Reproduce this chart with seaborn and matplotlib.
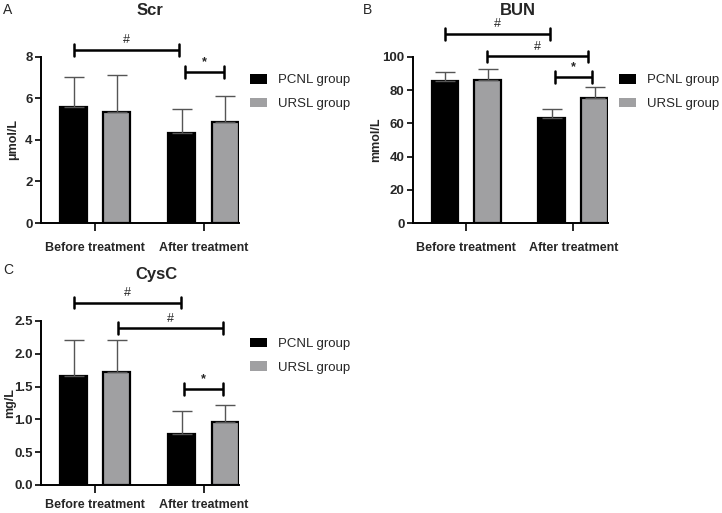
import numpy as np
import pandas as pd
import matplotlib
matplotlib.use("Agg")
import matplotlib.pyplot as plt
from matplotlib.patches import Patch
import seaborn as sns

sns.set_theme(style="white")
plt.rcParams["font.family"] = ["Liberation Sans", "DejaVu Sans"]

# ---- data ----
times = ["Before treatment", "After treatment"]
groups = ["PCNL group", "URSL group"]

scr_pcnl = [5.59, 4.35]
scr_pcnl_sd = [1.45, 1.16]
scr_ursl = [5.35, 4.87]
scr_ursl_sd = [1.77, 1.23]

bun_pcnl = [85.3, 63.5]
bun_pcnl_sd = [5.9, 5.2]
bun_ursl = [86.3, 75.3]
bun_ursl_sd = [6.6, 6.8]

cys_pcnl = [1.665, 0.78]
cys_pcnl_sd = [0.55, 0.355]
cys_ursl = [1.715, 0.955]
cys_ursl_sd = [0.495, 0.26]

# significance brackets: (x start, x end, y, label)
scr_brackets = [(-0.2, 0.77, 8.35, "#"), (0.83, 1.19, 7.28, "*")]
bun_brackets = [(-0.2, 0.78, 113.9, "#"), (0.19, 1.14, 100.4, "#"), (0.83, 1.18, 88.0, "*")]
cys_brackets = [(-0.2, 0.79, 2.78, "#"), (0.21, 1.18, 2.39, "#"), (0.82, 1.18, 1.465, "*")]

colors = {"PCNL group": "#000000", "URSL group": "#a0a0a2"}


def make_frame(pcnl, pcnl_sd, ursl, ursl_sd):
    rows = []
    for i, t in enumerate(times):
        rows.append({"time": t, "group": groups[0], "value": pcnl[i], "sd": pcnl_sd[i]})
        rows.append({"time": t, "group": groups[1], "value": ursl[i], "sd": ursl_sd[i]})
    return pd.DataFrame(rows)


def draw_panel(fig, rect, df, title, ylabel, ymax, yticks, ytick_labels, brackets, letter,
               letter_xy, title_x, ylabel_x, xpad=7.5):
    ax = fig.add_axes(rect)
    sns.barplot(data=df, x="time", y="value", hue="group", order=times, hue_order=groups,
                palette=colors, width=0.8, gap=0.375, errorbar=None,
                edgecolor="black", linewidth=1.6, ax=ax, legend=False)
    # upward-only error bars
    offsets = {"PCNL group": -0.2, "URSL group": 0.2}
    for _, r in df.iterrows():
        x = times.index(r["time"]) + offsets[r["group"]]
        ax.errorbar(x, r["value"], yerr=[[0], [r["sd"]]], fmt="none", ecolor="#555555",
                    elinewidth=1.0, capsize=7.5, capthick=1.0, zorder=1)
    ax.set_xlim(-0.5, 1.325)
    ax.set_ylim(0, ymax)
    ax.set_yticks(yticks)
    ax.set_yticklabels(ytick_labels, fontsize=9.5, fontweight="bold")
    ax.set_xticks([0, 1])
    ax.set_xticklabels(times, fontsize=9, fontweight="bold")
    ax.set_xlabel("")
    ax.set_ylabel(ylabel, fontsize=9, fontweight="bold", va="center")
    ax.yaxis.set_label_coords(ylabel_x, 0.5)
    for side in ["top", "right"]:
        ax.spines[side].set_visible(False)
    for side in ["left", "bottom"]:
        ax.spines[side].set_linewidth(1.4)
        ax.spines[side].set_color("black")
    ax.tick_params(axis="y", direction="out", length=4, width=1.4, pad=2, left=True)
    ax.tick_params(axis="x", direction="out", length=6, width=1.4, pad=xpad, bottom=True)

    # significance brackets
    cap = ymax * 0.035
    for x1, x2, y, lab in brackets:
        ax.plot([x1, x2], [y, y], color="black", lw=1.8, clip_on=False, solid_capstyle="butt")
        ax.plot([x1, x1], [y - cap, y + cap], color="black", lw=1.8, clip_on=False)
        ax.plot([x2, x2], [y - cap, y + cap], color="black", lw=1.8, clip_on=False)
        ax.text((x1 + x2) / 2, y + cap * 0.6, lab, ha="center", va="bottom", fontsize=9,
                fontweight="bold" if lab == "*" else "normal", clip_on=False)

    fig.text(title_x, rect[1] + rect[3] + 0.09, title, ha="center", va="center",
             fontsize=12, fontweight="bold")
    fig.text(letter_xy[0], letter_xy[1], letter, ha="left", va="center", fontsize=10)

    handles = [Patch(facecolor=colors[g], edgecolor="none", label=g) for g in groups]
    ax.legend(handles=handles, loc="upper left", bbox_to_anchor=(1.03, 0.93), frameon=False,
              fontsize=9.5, handlelength=1.3, handleheight=0.75, handletextpad=0.8, labelspacing=0.85,
              borderaxespad=0)
    return ax


fig = plt.figure(figsize=(7.22, 5.13), dpi=100)

df_scr = make_frame(scr_pcnl, scr_pcnl_sd, scr_ursl, scr_ursl_sd)
df_bun = make_frame(bun_pcnl, bun_pcnl_sd, bun_ursl, bun_ursl_sd)
df_cys = make_frame(cys_pcnl, cys_pcnl_sd, cys_ursl, cys_ursl_sd)

draw_panel(fig, [0.0568, 0.5653, 0.274, 0.3236], df_scr, "Scr", "μmol/L", 8,
           [0, 2, 4, 6, 8], ["0", "2", "4", "6", "8"], scr_brackets, "A", (0.004, 0.98), 0.208,
           ylabel_x=-0.14)
draw_panel(fig, [0.572, 0.5653, 0.270, 0.3236], df_bun, "BUN", "mmol/L", 100,
           [0, 20, 40, 60, 80, 100], ["0", "20", "40", "60", "80", "100"], bun_brackets, "B",
           (0.503, 0.98), 0.717, ylabel_x=-0.19)
draw_panel(fig, [0.0568, 0.0546, 0.274, 0.3197], df_cys, "CysC", "mg/L", 2.5,
           [0, 0.5, 1.0, 1.5, 2.0, 2.5], ["0.0", "0.5", "1.0", "1.5", "2.0", "2.5"], cys_brackets, "C",
           (0.004, 0.473), 0.217, ylabel_x=-0.155, xpad=4)

fig.savefig("out.png", dpi=100)
